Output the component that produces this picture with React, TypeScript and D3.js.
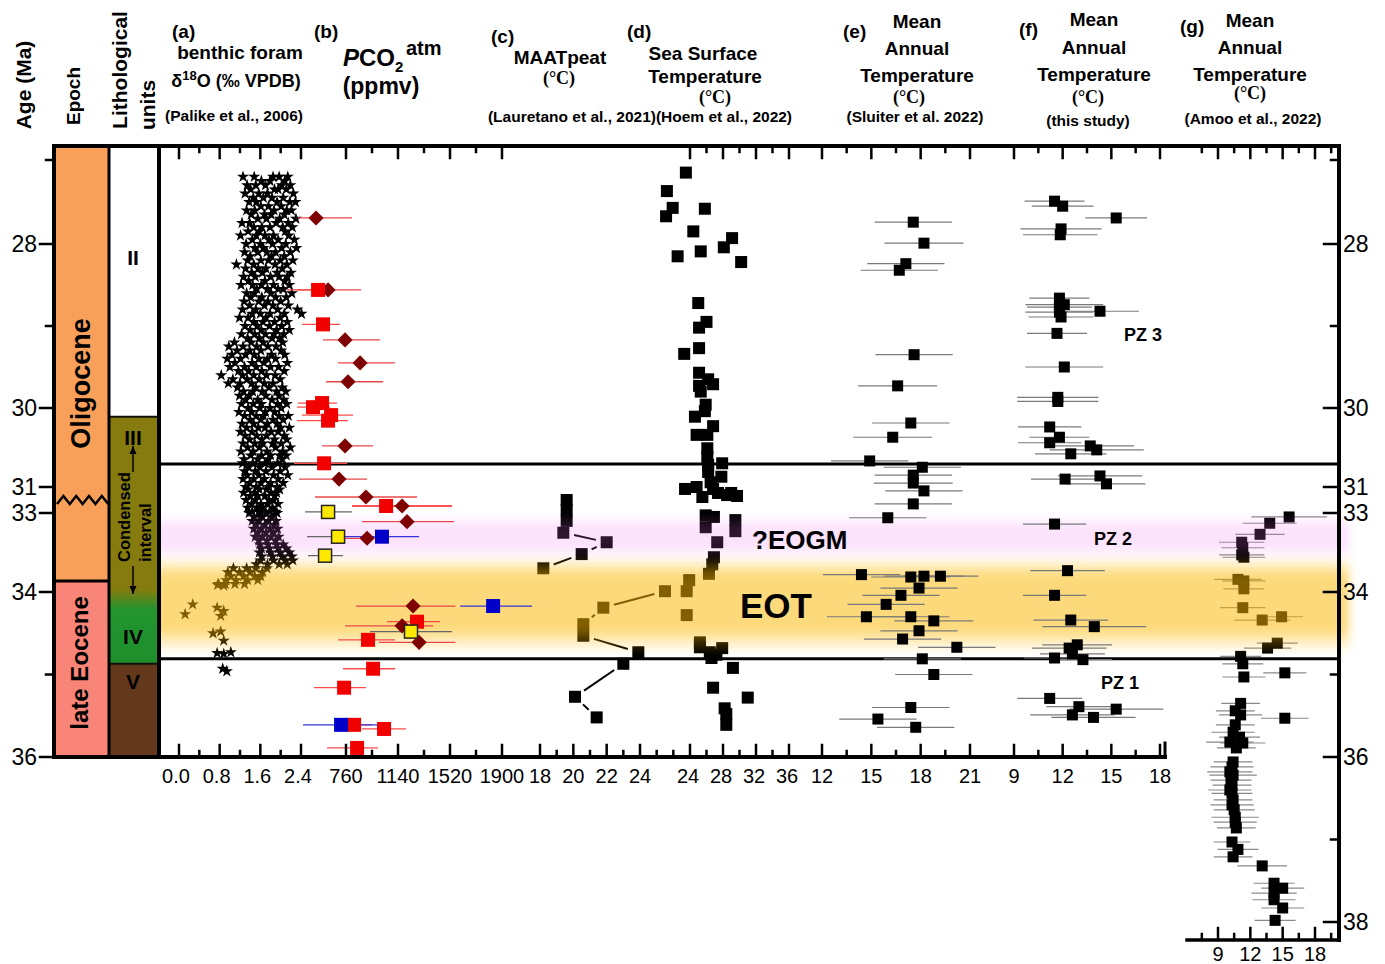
import { useEffect, useRef } from "react";
import * as d3 from "d3";

// Age axis ticks (Ma)
const leftAgeMajor = [28, 30, 31, 33, 34, 36];
const leftAgeMinor = [27, 29, 35];
const rightAgeMajor = [28, 30, 31, 33, 34, 36, 38];
const rightAgeMinor = [27, 29, 35, 37];

// zone boundaries and bands (Ma)
const boundaryLines = [30.71, 34.81];
const eogmBand = [33.02, 33.58];
const eotBand = [33.55, 34.74];

// epochs and lithological units (Ma)
const epochs = [
	{ name: "Oligocene", base: 33.86, color: "#F8A05A", mid: 29.7 },
	{ name: "late Eocene", base: 36, color: "#F98478", mid: 34.86 },
];
const lithoUnits = [
	{ name: "II", base: 30.11, at: 28.16 },
	{ name: "III", base: 34.06, at: 30.37 },
	{ name: "IV", base: 34.87, at: 34.53 },
	{ name: "V", base: 36, at: 35.08 },
];

// bottom axis ticks for each panel
const ticksA = [0, 0.8, 1.6, 2.4];
const minorA = [0.4, 1.2, 2.0];
const ticksB = [760, 1140, 1520, 1900];
const minorB = [950, 1330, 1710];
const ticksC = [18, 20, 22, 24];
const minorC = [19, 21, 23, 25, 26];
const ticksD = [24, 28, 32, 36];
const minorD = [26, 30, 34];
const ticksE = [12, 15, 18, 21];
const minorE = [13.5, 16.5, 19.5];
const ticksF = [9, 12, 15, 18];
const minorF = [10.5, 13.5, 16.5];
const ticksG = [9, 12, 15, 18];
const minorG = [7.5, 10.5, 13.5, 16.5, 19.5];

// (a) benthic foram d18O: [age, values...]
const d18ORows = [
	[27.2, 1.26, 1.48, 1.85, 1.97, 2.14], [27.25, 1.62, 1.79, 2.08], [27.3, 1.34, 1.51, 1.7, 2.02, 2.19],
	[27.35, 1.41, 1.88, 1.95, 2.11], [27.4, 1.3, 1.57, 1.74, 2.25], [27.45, 1.46, 1.66, 1.83, 2.05],
	[27.5, 1.38, 1.52, 1.93, 2.18, 2.29], [27.55, 1.61, 1.76, 2.01], [27.6, 1.33, 1.49, 1.87, 2.12, 2.21],
	[27.65, 1.42, 1.68, 1.81, 2.07], [27.7, 1.55, 1.72, 1.98, 2.3], [27.75, 1.24, 1.39, 1.91, 2.15],
	[27.8, 1.47, 1.63, 1.79, 2.04, 2.23], [27.85, 1.36, 1.58, 2.09], [27.9, 1.21, 1.52, 1.69, 1.86, 2.16],
	[27.95, 1.44, 1.77, 1.95, 2.27], [28.0, 1.32, 1.6, 1.84, 2.1], [28.05, 1.49, 1.66, 2.02, 2.31],
	[28.1, 1.29, 1.55, 1.73, 1.9, 2.19], [28.15, 1.4, 1.82, 2.07], [28.2, 1.35, 1.61, 1.76, 1.99, 2.24],
	[28.25, 1.13, 1.47, 1.89, 2.12], [28.3, 1.31, 1.56, 1.71, 2.03], [28.35, 1.43, 1.64, 1.93, 2.2],
	[28.4, 1.27, 1.5, 1.8, 1.97, 2.13], [28.45, 1.37, 1.69, 2.08], [28.5, 1.22, 1.45, 1.62, 1.86, 2.17],
	[28.55, 1.53, 1.74, 1.95, 2.05], [28.6, 1.33, 1.48, 1.81, 2.22], [28.65, 1.41, 1.63, 1.9, 2.11],
	[28.7, 1.28, 1.57, 1.75, 2.0], [28.75, 1.39, 1.68, 1.85, 2.15], [28.8, 1.25, 1.51, 1.94, 2.33],
	[28.85, 1.44, 1.6, 1.79, 2.07, 2.41], [28.9, 1.19, 1.36, 1.71, 1.99], [28.95, 1.47, 1.65, 1.88, 2.13],
	[29.0, 1.3, 1.54, 1.78, 2.02], [29.05, 1.4, 1.62, 1.92, 2.17], [29.1, 1.23, 1.49, 1.7, 1.87, 2.06],
	[29.15, 1.35, 1.58, 1.83, 1.98], [29.2, 1.09, 1.42, 1.66, 2.04], [29.25, 0.98, 1.26, 1.53, 1.75, 1.91],
	[29.3, 1.14, 1.39, 1.61, 2.01], [29.35, 1.04, 1.31, 1.48, 1.82, 2.08], [29.4, 0.95, 1.21, 1.57, 1.74, 1.9],
	[29.45, 1.1, 1.44, 1.67, 2.13], [29.5, 1.0, 1.29, 1.52, 1.8, 1.96], [29.55, 1.17, 1.37, 1.63, 2.07],
	[29.6, 0.83, 1.25, 1.47, 1.72, 1.89], [29.65, 1.06, 1.34, 1.58, 1.99], [29.7, 0.97, 1.2, 1.43, 1.68, 1.85],
	[29.75, 1.15, 1.51, 1.77, 2.03], [29.8, 1.27, 1.45, 1.64, 1.92, 2.1], [29.85, 1.19, 1.38, 1.71, 1.97],
	[29.9, 1.31, 1.55, 1.83, 2.06], [29.95, 1.23, 1.46, 1.62, 1.94, 2.12], [30.0, 1.36, 1.59, 1.79, 2.01],
	[30.05, 1.18, 1.43, 1.7, 1.88], [30.1, 1.29, 1.52, 1.66, 1.97, 2.15], [30.15, 1.4, 1.61, 1.85, 2.05],
	[30.2, 1.24, 1.47, 1.74, 1.93], [30.25, 1.33, 1.56, 1.69, 2.0, 2.17], [30.3, 1.21, 1.44, 1.81, 1.95],
	[30.35, 1.3, 1.53, 1.72, 2.07], [30.4, 1.39, 1.63, 1.88, 2.12], [30.45, 1.26, 1.49, 1.65, 1.84, 2.01],
	[30.5, 1.35, 1.58, 1.9, 2.19], [30.55, 1.22, 1.46, 1.73, 2.04], [30.6, 1.41, 1.62, 1.8, 1.98, 2.11],
	[30.65, 1.28, 1.55, 1.76, 2.03], [30.7, 1.25, 1.45, 1.69, 1.94], [30.75, 1.37, 1.59, 1.83, 2.09],
	[30.8, 1.29, 1.5, 1.71, 1.99], [30.85, 1.34, 1.57, 1.86, 2.14], [30.9, 1.26, 1.47, 1.68, 1.95],
	[30.95, 1.39, 1.61, 1.8, 2.05], [31.0, 1.31, 1.52, 1.76, 1.93], [31.2, 1.36, 1.58, 1.72, 1.98],
	[31.45, 1.27, 1.49, 1.81, 1.92], [31.7, 1.4, 1.55, 1.69, 1.88], [32.0, 1.32, 1.5, 1.77, 1.86],
	[32.3, 1.43, 1.61, 1.74, 1.95], [32.6, 1.35, 1.53, 1.66, 1.84], [32.9, 1.44, 1.57, 1.78, 1.9],
	[33.0, 1.38, 1.6, 1.71, 1.93], [33.05, 1.48, 1.64, 1.83], [33.1, 1.44, 1.57, 1.76, 1.91],
	[33.15, 1.52, 1.69, 1.87], [33.2, 1.47, 1.62, 1.79, 1.94], [33.25, 1.55, 1.71, 1.86],
	[33.3, 1.5, 1.64, 1.81, 1.96], [33.35, 1.57, 1.73, 1.9], [33.4, 1.59, 1.75, 1.92, 2.05],
	[33.45, 1.62, 1.78, 1.95, 2.11], [33.5, 1.58, 1.8, 1.99, 2.17], [33.55, 1.63, 1.84, 2.03, 2.22],
	[33.6, 1.6, 1.86, 2.09, 2.24], [33.65, 1.52, 1.74, 1.97, 2.13], [33.7, 1.07, 1.33, 1.51, 1.73],
	[33.75, 0.96, 1.19, 1.4, 1.64], [33.8, 1.02, 1.27, 1.49, 1.61], [33.85, 0.93, 1.12, 1.35, 1.55],
	[33.9, 0.78, 0.91, 1.1, 1.29],
];
const d18OScatter = [
	[33.91, 0.76], [33.92, 0.88], [34.15, 0.27], [34.19, 0.75], [34.23, 0.88], [34.27, 0.12],
	[34.29, 0.82], [34.48, 0.82], [34.5, 0.67], [34.59, 0.88], [34.73, 1.02], [34.74, 0.75],
	[34.75, 0.88], [34.93, 0.86], [34.96, 0.94],
];

// (b) PCO2 atm (ppmv): [age, value, low, high]
const co2Diamond = [
	[27.69, 541, 409, 804], [28.56, 629, 330, 870], [29.17, 753, 592, 1009], [29.45, 863, 702, 1118],
	[29.68, 775, 614, 1031], [30.48, 753, 585, 958], [30.9, 709, 417, 914], [31.77, 906, 534, 1279],
	[32.46, 1170, 804, 1535], [33.11, 1206, 877, 1550], [33.32, 914, 753, 1060], [34.17, 1250, 833, 1560],
	[34.41, 1170, 753, 1396], [34.61, 1294, 1000, 1560],
];
const co2Red = [
	[28.56, 556, 402, 665], [28.98, 592, 439, 716], [29.94, 585, 409, 694], [29.99, 519, 402, 643],
	[30.09, 651, 439, 811], [30.16, 629, 402, 775], [30.7, 600, 380, 768], [32.46, 1053, 804, 1535],
	[34.36, 1279, 1060, 1447], [34.58, 921, 702, 1118], [34.93, 958, 738, 1118], [35.16, 746, 526, 906],
	[35.61, 819, 694, 950], [35.66, 1038, 877, 1199], [35.89, 841, 621, 994],
];
const co2Yellow = [
	[32.92, 629, 461, 804], [33.3, 702, 475, 753], [33.54, 607, 482, 738], [34.48, 1235, 936, 1535],
];
const co2Blue = [
	[33.3, 1023, 753, 1294], [34.17, 1835, 1594, 2120], [35.61, 724, 446, 987],
];

// (c) MAATpeat: [age, value, joined to previous]
const maatPeat = [
	[32.0, 19.6, 0], [32.77, 19.6, 0], [33.1, 19.6, 0], [33.25, 19.4, 0], [33.37, 22.0, 1],
	[33.52, 20.5, 1], [33.7, 18.2, 1], [33.99, 25.5, 0], [34.19, 21.8, 1], [34.39, 20.6, 1],
	[34.53, 20.6, 0], [34.73, 23.9, 1], [34.87, 23.0, 0], [35.27, 20.1, 1], [35.52, 21.4, 1],
];

// (d) SST: [age, value]
const sst = [
	[27.15, 23.5], [27.37, 21.2], [27.57, 21.9], [27.67, 21.1], [27.58, 25.8], [27.85, 24.4],
	[27.93, 29.1], [28.04, 28.1], [28.09, 25.3], [28.15, 22.5], [28.22, 30.2], [28.72, 25.0],
	[28.95, 26.0], [29.02, 25.1], [29.27, 25.1], [29.34, 23.3], [29.57, 25.1], [29.65, 26.2],
	[29.71, 26.8], [29.73, 25.1], [29.8, 25.3], [29.96, 25.9], [30.04, 25.8], [30.11, 24.6],
	[30.23, 26.8], [30.34, 24.8], [30.34, 26.1], [30.51, 26.1], [30.62, 26.1], [30.7, 27.9],
	[30.72, 26.2], [30.81, 26.2], [30.87, 27.8], [30.94, 26.5], [31.0, 24.8], [31.15, 23.4],
	[31.15, 26.8], [31.46, 27.4], [31.46, 29.0], [31.62, 28.5], [31.69, 29.7], [31.77, 25.5],
	[33.03, 25.9], [33.05, 26.9], [33.09, 29.5], [33.18, 25.9], [33.23, 29.5], [33.37, 27.3],
	[33.56, 26.9], [33.65, 26.7], [33.77, 26.3], [33.85, 23.9], [33.99, 23.6], [34.28, 23.6],
	[34.61, 25.2], [34.67, 25.2], [34.73, 26.4], [34.76, 27.2], [34.68, 27.9], [34.8, 26.6],
	[34.92, 29.2], [35.16, 26.8], [35.28, 31.0], [35.41, 28.2], [35.48, 28.4], [35.61, 28.4],
];

// (e) MAT Sluiter et al.: [age, value, error]
const matSluiter = [
	[27.74, 17.55, 2.35], [27.99, 18.2, 2.4], [28.24, 17.1, 2.35], [28.32, 16.7, 2.35],
	[29.35, 17.6, 2.35], [29.73, 16.6, 2.4], [30.19, 17.4, 2.35], [30.37, 16.3, 2.4],
	[30.67, 14.9, 2.35], [30.75, 18.1, 2.35], [30.85, 17.55, 2.35], [30.95, 17.55, 2.4],
	[31.3, 18.2, 2.35], [32.3, 17.55, 2.35], [33.06, 16.0, 2.35], [33.78, 14.4, 2.35],
	[33.81, 17.4, 2.4], [33.8, 18.2, 2.4], [33.8, 19.2, 2.3], [33.95, 17.9, 2.35],
	[34.04, 16.8, 2.35], [34.15, 15.9, 2.35], [34.3, 14.7, 2.4], [34.3, 17.4, 2.35],
	[34.35, 18.8, 2.4], [34.47, 17.9, 2.35], [34.57, 16.9, 2.35], [34.67, 20.2, 2.35],
	[34.81, 18.1, 2.35], [35.0, 18.8, 2.35], [35.4, 17.4, 2.35], [35.54, 15.4, 2.35],
	[35.64, 17.7, 2.35],
];

// (f) MAT this study: [age, value, error]
const matThisStudy = [
	[27.49, 11.5, 1.85], [27.55, 12.0, 1.9], [27.69, 15.3, 1.9], [27.82, 11.9, 2.5], [27.89, 11.85, 2.3],
	[28.66, 11.8, 1.85], [28.74, 12.1, 2.4], [28.77, 11.8, 2.0], [28.82, 14.3, 2.4], [28.83, 11.8, 2.1],
	[28.89, 11.9, 2.0], [29.09, 11.65, 1.85], [29.5, 12.1, 2.4], [29.87, 11.7, 2.5], [29.92, 11.7, 2.5],
	[30.24, 11.2, 1.95], [30.37, 11.8, 1.85], [30.44, 11.2, 1.95], [30.48, 13.7, 2.7], [30.53, 14.1, 2.9],
	[30.58, 12.5, 2.2], [30.9, 12.15, 2.1], [30.86, 14.3, 2.6], [30.96, 14.7, 2.4], [33.14, 11.5, 1.95],
	[33.73, 12.3, 2.3], [34.04, 11.5, 1.95], [34.34, 12.5, 2.3], [34.42, 13.95, 3.2], [34.64, 12.9, 2.15],
	[34.68, 12.4, 2.3], [34.75, 12.6, 2.0], [34.8, 11.5, 1.9], [34.82, 13.25, 1.8], [35.29, 11.2, 2.0],
	[35.39, 13.0, 2.0], [35.42, 15.3, 2.9], [35.49, 12.6, 2.6], [35.52, 13.9, 2.6],
];

// (g) MAT Amoo et al.: [age, value, error]
const matAmoo = [
	[33.05, 15.6, 3.5], [33.13, 13.8, 2.5], [33.27, 12.9, 2.3], [33.37, 11.2, 2.1], [33.44, 11.3, 2.0],
	[33.53, 11.2, 2.1], [33.56, 11.4, 2.0], [33.84, 10.85, 2.2], [33.86, 11.4, 2.0], [33.96, 11.4, 1.9],
	[34.19, 11.3, 2.1], [34.34, 13.1, 2.6], [34.3, 14.9, 2.0], [34.68, 13.6, 2.2], [34.62, 14.5, 1.9],
	[34.78, 11.1, 1.9], [34.87, 11.3, 1.9], [35.03, 11.4, 2.0], [34.98, 15.2, 2.0], [35.35, 11.1, 1.8],
	[35.44, 10.6, 1.8], [35.49, 11.1, 2.0], [35.53, 15.2, 2.2], [35.61, 10.6, 1.8], [35.7, 10.4, 2.0],
	[35.76, 11.0, 1.9], [35.82, 10.1, 2.2], [35.83, 11.3, 2.1], [35.89, 10.7, 1.8], [36.06, 10.4, 1.8],
	[36.12, 10.3, 2.0], [36.18, 10.1, 2.1], [36.22, 10.4, 2.2], [36.28, 10.2, 1.9], [36.34, 10.3, 1.8],
	[36.4, 10.1, 2.0], [36.44, 10.3, 1.9], [36.52, 10.4, 1.8], [36.58, 10.3, 2.0], [36.64, 10.5, 1.9],
	[36.73, 10.6, 2.2], [36.79, 10.6, 2.0], [36.86, 10.7, 1.8], [37.03, 10.3, 1.7], [37.12, 10.85, 1.9],
	[37.21, 10.4, 1.8], [37.32, 13.1, 2.3], [37.53, 14.2, 1.9], [37.59, 15.0, 2.0], [37.65, 14.2, 2.1],
	[37.73, 14.2, 2.0], [37.83, 15.0, 2.0], [37.98, 14.3, 1.9],
];

const W = 1385;
const H = 964;
const SANS = "'Liberation Sans', Arial, Helvetica, sans-serif";
const SERIF = "'Liberation Serif', 'Times New Roman', serif";

const App = () => {
	const svgRef = useRef<SVGSVGElement>(null);

	useEffect(() => {
		if (!svgRef.current) return;
		document.body.style.margin = "0";
		const svg = d3.select(svgRef.current);
		svg.selectAll("*").remove();
		svg.style("font-family", SANS);

		// broken age scale shared by every panel
		const y = d3
			.scaleLinear()
			.domain([27, 28, 30, 31, 33, 34, 36, 38])
			.range([160, 244, 408, 487, 513, 592, 757, 922]);

		const xA = d3.scaleLinear().domain([0, 2.4]).range([179, 301]);
		const xB = d3.scaleLinear().domain([760, 1900]).range([346, 502]);
		const xC = d3.scaleLinear().domain([18, 24]).range([540, 640]);
		const xD = d3.scaleLinear().domain([24, 36]).range([690, 789]);
		const xE = d3.scaleLinear().domain([12, 21]).range([822, 970]);
		const xF = d3.scaleLinear().domain([9, 18]).range([1014, 1160]);
		const xG = d3.scaleLinear().domain([9, 18]).range([1218, 1315]);

		const top = 146;
		const left = 159;
		const right = 1339;
		const bottom = y(36);
		const gBottom = 940;

		const defs = svg.append("defs");
		const vGrad = (id: string, color: string, stops: number[][]) => {
			const g = defs
				.append("linearGradient")
				.attr("id", id)
				.attr("x1", 0).attr("x2", 0).attr("y1", 0).attr("y2", 1);
			stops.forEach(([o, a]) =>
				g.append("stop").attr("offset", o).attr("stop-color", color).attr("stop-opacity", a)
			);
		};
		vGrad("eot", "#FAB800", [[0, 0], [0.2, 0.52], [0.75, 0.52], [1, 0]]);
		vGrad("eogm", "#F070F0", [[0, 0], [0.3, 0.2], [0.7, 0.2], [1, 0]]);

		const lg = defs
			.append("linearGradient")
			.attr("id", "litho")
			.attr("x1", 0).attr("x2", 0).attr("y1", 0).attr("y2", 1);
		[[0, "#867B0E"], [0.7, "#867B0E"], [0.78, "#22952F"], [1, "#1E8F2B"]].forEach(([o, c]) =>
			lg.append("stop").attr("offset", o).attr("stop-color", c)
		);
		defs
			.append("filter")
			.attr("id", "soft")
			.attr("x", "-3%").attr("width", "106%").attr("y", "-20%").attr("height", "140%")
			.append("feGaussianBlur")
			.attr("stdDeviation", 4);

		const under = svg.append("g");
		const bands = svg.append("g");
		const over = svg.append("g");
		const frame = svg.append("g");
		const labels = svg.append("g");

		// ---- (a) benthic d18O stars ----
		const stars: number[][] = [];
		d18ORows.forEach(([age, ...vals]) => vals.forEach((v) => stars.push([age, v])));
		d18OScatter.forEach((p) => stars.push(p));
		const star = d3.symbol().type(d3.symbolStar).size(46);
		under
			.selectAll(".star")
			.data(stars)
			.enter()
			.append("path")
			.attr("d", star())
			.attr("transform", (d) => `translate(${xA(d[1])},${y(d[0])})`)
			.attr("fill", "#000");

		// ---- (c) MAATpeat with gapped joins ----
		maatPeat.forEach((d, i) => {
			if (!i || !d[2]) return;
			const p = maatPeat[i - 1];
			const x1 = xC(p[1]), y1 = y(p[0]), x2 = xC(d[1]), y2 = y(d[0]);
			const len = Math.hypot(x2 - x1, y2 - y1);
			const gap = 11;
			if (len < 2 * gap + 3) return;
			const ux = (x2 - x1) / len, uy = (y2 - y1) / len;
			under
				.append("line")
				.attr("x1", x1 + ux * gap).attr("y1", y1 + uy * gap)
				.attr("x2", x2 - ux * gap).attr("y2", y2 - uy * gap)
				.attr("stroke", "#000").attr("stroke-width", 2);
		});
		const sq = (g: any, data: number[][], sx: any, size: number, fill: string, cls: string) =>
			g
				.selectAll("." + cls)
				.data(data)
				.enter()
				.append("rect")
				.attr("class", cls)
				.attr("x", (d: number[]) => sx(d[1]) - size / 2)
				.attr("y", (d: number[]) => y(d[0]) - size / 2)
				.attr("width", size)
				.attr("height", size)
				.attr("fill", fill);
		sq(under, maatPeat, xC, 12, "#000", "maat");

		// ---- (d) SST ----
		sq(under, sst, xD, 12, "#000", "sst");

		// ---- error bars helper ----
		const errBars = (g: any, data: number[][], sx: any, color: string, cls: string, width = 1.2) =>
			g
				.selectAll("." + cls)
				.data(data)
				.enter()
				.append("line")
				.attr("class", cls)
				.attr("x1", (d: number[]) => (d.length > 3 ? sx(d[2]) : sx(d[1] - d[2])))
				.attr("x2", (d: number[]) => (d.length > 3 ? sx(d[3]) : sx(d[1] + d[2])))
				.attr("y1", (d: number[]) => y(d[0]))
				.attr("y2", (d: number[]) => y(d[0]))
				.attr("stroke", color)
				.attr("stroke-width", width);

		// ---- (g) Amoo et al. ----
		errBars(under, matAmoo, xG, "#8a8a8a", "errg");
		sq(under, matAmoo, xG, 11, "#000", "amoo");

		// ---- bands ----
		const band = (b: number[], fill: string) =>
			bands
				.append("rect")
				.attr("x", left - 12)
				.attr("width", right + 10 - left + 12)
				.attr("y", y(b[0]))
				.attr("height", y(b[1]) - y(b[0]))
				.attr("fill", fill)
				.attr("filter", "url(#soft)");
		band(eogmBand, "url(#eogm)");
		band(eotBand, "url(#eot)");

		// boundary lines
		boundaryLines.forEach((a) =>
			over
				.append("line")
				.attr("x1", left).attr("x2", right)
				.attr("y1", y(a)).attr("y2", y(a))
				.attr("stroke", "#000").attr("stroke-width", 3)
		);

		// ---- (b) PCO2 ----
		errBars(over, co2Diamond, xB, "#E84848", "errbd", 1.3);
		errBars(over, co2Red, xB, "#FF4A4A", "errbr", 1.3);
		errBars(over, co2Yellow, xB, "#666", "errby", 1.3);
		errBars(over, co2Blue, xB, "#3434D8", "errbb", 1.3);
		const diamond = d3.symbol().type(d3.symbolSquare).size(115);
		over
			.selectAll(".dia")
			.data(co2Diamond)
			.enter()
			.append("path")
			.attr("d", diamond())
			.attr("transform", (d) => `translate(${xB(d[1])},${y(d[0])}) rotate(45)`)
			.attr("fill", "#7E0000");
		sq(over, co2Red, xB, 14, "#F20000", "co2r");
		sq(over, co2Yellow, xB, 13, "#FFE800", "co2y").attr("stroke", "#222").attr("stroke-width", 1.5);
		sq(over, co2Blue, xB, 14, "#0000C8", "co2b");

		// ---- (e) Sluiter, (f) this study ----
		errBars(over, matSluiter, xE, "#7a7a7a", "erre");
		sq(over, matSluiter, xE, 11, "#000", "slu");
		errBars(over, matThisStudy, xF, "#7a7a7a", "errf");
		sq(over, matThisStudy, xF, 11, "#000", "this");

		// ---- left columns ----
		const colL = 55, colM = 109, colR = 159;
		let prev = top;
		epochs.forEach((e) => {
			frame.append("rect").attr("x", colL).attr("y", prev).attr("width", colM - colL)
				.attr("height", y(e.base) - prev).attr("fill", e.color);
			prev = y(e.base);
		});
		frame.append("line").attr("x1", colL).attr("x2", colM).attr("y1", y(epochs[0].base))
			.attr("y2", y(epochs[0].base)).attr("stroke", "#000").attr("stroke-width", 3);
		const zz = d3.range(0, 9).map((i) => [57 + i * 6.4, y(32) + (i % 2 ? -4 : 4)]);
		frame.append("path").attr("d", d3.line()(zz as [number, number][])).attr("fill", "none")
			.attr("stroke", "#000").attr("stroke-width", 2.5);

		// litho units
		frame.append("rect").attr("x", colM).attr("y", top).attr("width", colR - colM)
			.attr("height", y(lithoUnits[0].base) - top).attr("fill", "#fff");
		frame.append("rect").attr("x", colM).attr("y", y(lithoUnits[0].base)).attr("width", colR - colM)
			.attr("height", y(lithoUnits[2].base) - y(lithoUnits[0].base)).attr("fill", "url(#litho)");
		frame.append("rect").attr("x", colM).attr("y", y(lithoUnits[2].base)).attr("width", colR - colM)
			.attr("height", bottom - y(lithoUnits[2].base)).attr("fill", "#64381A");
		[lithoUnits[0].base, lithoUnits[2].base].forEach((a) =>
			frame.append("line").attr("x1", colM).attr("x2", colR).attr("y1", y(a)).attr("y2", y(a))
				.attr("stroke", "#111").attr("stroke-width", 2)
		);

		// frame lines
		const fl = (x1: number, y1: number, x2: number, y2: number, w = 4) =>
			frame.append("line").attr("x1", x1).attr("y1", y1).attr("x2", x2).attr("y2", y2)
				.attr("stroke", "#000").attr("stroke-width", w).attr("stroke-linecap", "square");
		fl(colL - 1, top, right, top);
		fl(colL - 1, top, colL - 1, bottom);
		fl(colM, top, colM, bottom, 3);
		fl(colR, top, colR, bottom, 4);
		fl(colL - 1, bottom, 1165, bottom);
		fl(right, top, right, gBottom, 4);
		fl(1187, gBottom, right, gBottom, 3.5);

		// age ticks
		leftAgeMajor.forEach((a) => fl(40, y(a), colL - 1, y(a), 2.5));
		leftAgeMinor.forEach((a) => fl(46, y(a), colL - 1, y(a), 2.5));
		rightAgeMajor.forEach((a) => fl(right - 15, y(a), right, y(a), 2.5));
		rightAgeMinor.forEach((a) => fl(right - 8, y(a), right, y(a), 2.5));

		// panel ticks
		const hTicks = (sx: any, major: number[], minor: number[], yPos: number, dir: number) => {
			major.forEach((v) => fl(sx(v), yPos, sx(v), yPos + dir * 12, 2.5));
			minor.forEach((v) => fl(sx(v), yPos, sx(v), yPos + dir * 6, 2.5));
		};
		const panels: [any, number[], number[]][] = [
			[xA, ticksA, minorA], [xB, ticksB, minorB], [xC, ticksC, minorC],
			[xD, ticksD, minorD], [xE, ticksE, minorE], [xF, ticksF, minorF],
		];
		panels.forEach(([sx, ma, mi]) => hTicks(sx, ma, mi, bottom, -1));
		panels.filter((_p, i) => i !== 2).forEach(([sx, ma, mi]) => hTicks(sx, ma, mi, top, 1));
		hTicks(xG, ticksG, minorG, top, 1);
		hTicks(xG, ticksG, minorG, gBottom, -1);
		fl(1165, bottom, 1165, bottom - 14, 3);

		// ---- text ----
		const txt = (x: number, yb: number, s: string, size: number, opts: any = {}) =>
			labels
				.append("text")
				.attr("x", x)
				.attr("y", yb)
				.attr("font-size", size)
				.attr("text-anchor", opts.anchor ?? "middle")
				.attr("font-weight", opts.weight ?? "bold")
				.attr("font-family", opts.family ?? SANS)
				.attr("fill", "#000")
				.text(s);
		const vtxt = (x: number, yc: number, s: string, size: number, anchor = "middle") =>
			labels
				.append("text")
				.attr("transform", `translate(${x},${yc}) rotate(-90)`)
				.attr("text-anchor", anchor)
				.attr("font-size", size)
				.attr("font-weight", "bold")
				.text(s);

		// axis labels
		leftAgeMajor.forEach((a) => txt(37, y(a) + 8, String(a), 23, { anchor: "end", weight: "normal" }));
		rightAgeMajor.forEach((a) => txt(right + 4, y(a) + 8, String(a), 23, { anchor: "start", weight: "normal" }));
		const fmt1 = d3.format(".1f");
		ticksA.forEach((v) => txt(xA(v) - 3, bottom + 26, fmt1(v), 20, { weight: "normal" }));
		ticksB.forEach((v) => txt(xB(v), bottom + 26, String(v), 20, { weight: "normal" }));
		ticksC.forEach((v) => txt(xC(v), bottom + 26, String(v), 20, { weight: "normal" }));
		ticksD.forEach((v) => txt(xD(v) - 2, bottom + 26, String(v), 20, { weight: "normal" }));
		ticksE.forEach((v) => txt(xE(v), bottom + 26, String(v), 20, { weight: "normal" }));
		ticksF.forEach((v) => txt(xF(v), bottom + 26, String(v), 20, { weight: "normal" }));
		ticksG.forEach((v) => txt(xG(v), gBottom + 21, String(v), 20, { weight: "normal" }));

		// column labels
		vtxt(90, y(epochs[0].mid), epochs[0].name, 27);
		vtxt(88, y(epochs[1].mid), epochs[1].name, 24);
		lithoUnits.forEach((u) => txt(133, y(u.at) + 8, u.name, 21));
		vtxt(130, 562, "Condensed", 16.5, "start");
		vtxt(151, 562, "interval", 16.5, "start");
		const arrow = (x: number, y1: number, y2: number) => {
			fl(x, y1, x, y2, 1.5).attr("stroke-linecap", "butt");
			const d = y2 < y1 ? -1 : 1;
			labels.append("path")
				.attr("d", `M${x - 3.5},${y2 - d * 8}L${x},${y2}L${x + 3.5},${y2 - d * 8}Z`)
				.attr("fill", "#000");
		};
		arrow(133, 472, 446);
		arrow(133, 566, 594);

		// headers
		vtxt(31, 85, "Age (Ma)", 21);
		vtxt(80, 96, "Epoch", 19);
		vtxt(127, 70, "Lithological", 21);
		vtxt(155, 105, "units", 21);

		txt(172, 38, "(a)", 19, { anchor: "start" });
		txt(240, 59, "benthic foram", 19);
		const d18 = txt(236, 87, "δ", 18);
		d18.append("tspan").attr("font-size", 13).attr("dy", -7).text("18");
		d18.append("tspan").attr("dy", 7).text("O (‰ VPDB)");
		txt(234, 121, "(Palike et al., 2006)", 15.5);

		txt(314, 38, "(b)", 19, { anchor: "start" });
		const pco = txt(343, 66, "", 24, { anchor: "start" });
		pco.append("tspan").attr("font-style", "italic").text("P");
		pco.append("tspan").text("CO");
		pco.append("tspan").attr("font-size", 15).attr("dy", 6).text("2");
		txt(406, 55, "atm", 20, { anchor: "start" });
		txt(381, 94, "(ppmv)", 23);

		txt(491, 43, "(c)", 19, { anchor: "start" });
		txt(560, 64, "MAATpeat", 19);
		txt(559, 84, "(°C)", 18, { family: SERIF });

		txt(627, 38, "(d)", 19, { anchor: "start" });
		txt(703, 60, "Sea Surface", 19);
		txt(705, 83, "Temperature", 19);
		txt(715, 103, "(°C)", 18, { family: SERIF });
		txt(640, 122, "(Lauretano et al., 2021)(Hoem et al., 2022)", 15.5);

		txt(843, 38, "(e)", 19, { anchor: "start" });
		txt(917, 28, "Mean", 19);
		txt(917, 55, "Annual", 19);
		txt(917, 82, "Temperature", 19);
		txt(909, 103, "(°C)", 18, { family: SERIF });
		txt(915, 122, "(Sluiter et al. 2022)", 15.5);

		txt(1019, 36, "(f)", 19, { anchor: "start" });
		txt(1094, 26, "Mean", 19);
		txt(1094, 54, "Annual", 19);
		txt(1094, 81, "Temperature", 19);
		txt(1088, 103, "(°C)", 18, { family: SERIF });
		txt(1088, 126, "(this study)", 15.5);

		txt(1180, 33, "(g)", 19, { anchor: "start" });
		txt(1250, 27, "Mean", 19);
		txt(1250, 54, "Annual", 19);
		txt(1250, 81, "Temperature", 19);
		txt(1250, 99, "(°C)", 18, { family: SERIF });
		txt(1253, 124, "(Amoo et al., 2022)", 15.5);

		// in-plot labels
		txt(752, 549, "?EOGM", 26, { anchor: "start" });
		txt(740, 618, "EOT", 35, { anchor: "start" });
		txt(1124, 341, "PZ 3", 18, { anchor: "start" });
		txt(1094, 545, "PZ 2", 18, { anchor: "start" });
		txt(1101, 689, "PZ 1", 18, { anchor: "start" });
	}, []);

	return <svg ref={svgRef} width={W} height={H} style={{ display: "block", background: "#fff" }}></svg>;
};

export default App;
